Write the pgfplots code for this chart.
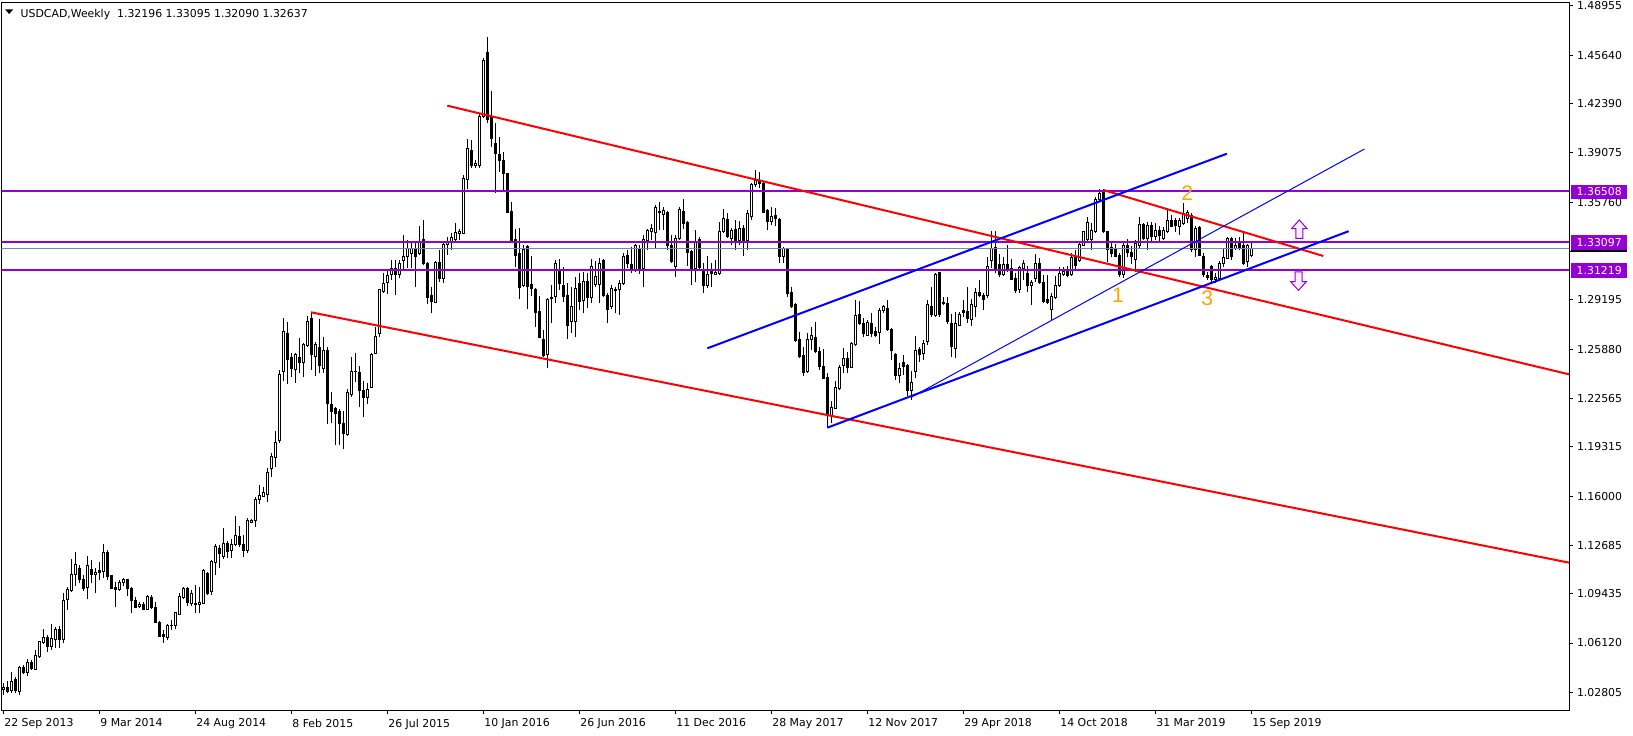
\documentclass[border=0pt]{standalone}
\usepackage{fontspec}
\setmainfont{DejaVu Sans}
\newfontfamily\arialfont{Liberation Sans}
\usepackage{pgfplots}
\usepackage{pgfplotstable}
\pgfplotsset{compat=1.18}
\definecolor{mtpurple}{RGB}{148,0,211}
\definecolor{mtred}{RGB}{255,0,0}
\definecolor{mtblue}{RGB}{0,0,255}
\definecolor{bidgray}{RGB}{119,136,153}
\definecolor{mtorange}{RGB}{255,165,0}
\definecolor{arrowfill}{RGB}{250,238,255}
\newcommand{\tickfont}{\fontsize{3.1pt}{3.7pt}\selectfont}
\pgfplotstableread{
w o h l c
0 1.0301 1.0345 1.0262 1.0314
1 1.0314 1.0357 1.0274 1.0285
2 1.0292 1.0417 1.0274 1.0354
3 1.0368 1.0386 1.0274 1.0292
4 1.0285 1.0457 1.0262 1.0448
5 1.0448 1.0464 1.0401 1.0413
6 1.0413 1.0502 1.0390 1.0480
7 1.0484 1.0498 1.0431 1.0440
8 1.0435 1.0565 1.0431 1.0525
9 1.0520 1.0626 1.0513 1.0619
10 1.0614 1.0706 1.0608 1.0650
11 1.0646 1.0664 1.0554 1.0587
12 1.0587 1.0740 1.0565 1.0643
13 1.0637 1.0722 1.0581 1.0706
14 1.0706 1.0726 1.0581 1.0637
15 1.0637 1.0946 1.0610 1.0901
16 1.0906 1.0991 1.0834 1.0973
17 1.0962 1.1177 1.0957 1.1074
18 1.1074 1.1224 1.0995 1.1137
19 1.1114 1.1137 1.1013 1.1040
20 1.1040 1.1069 1.0964 1.0977
21 1.0986 1.1197 1.0906 1.1130
22 1.1107 1.1170 1.1013 1.1072
23 1.1072 1.1114 1.0951 1.1089
24 1.1098 1.1159 1.1036 1.1087
25 1.1094 1.1278 1.1047 1.1222
26 1.1222 1.1237 1.1036 1.1058
27 1.1063 1.1069 1.0973 1.0980
28 1.0984 1.1025 1.0856 1.0975
29 1.0973 1.1036 1.0964 1.1020
30 1.1020 1.1047 1.0995 1.1036
31 1.1036 1.1045 1.0928 1.0980
32 1.0980 1.0991 1.0812 1.0895
33 1.0901 1.0924 1.0845 1.0852
34 1.0856 1.0890 1.0850 1.0874
35 1.0874 1.0890 1.0834 1.0838
36 1.0838 1.0935 1.0834 1.0928
37 1.0919 1.0935 1.0838 1.0850
38 1.0850 1.0890 1.0745 1.0749
39 1.0751 1.0758 1.0655 1.0659
40 1.0670 1.0699 1.0614 1.0659
41 1.0650 1.0740 1.0632 1.0733
42 1.0729 1.0767 1.0699 1.0733
43 1.0729 1.0823 1.0704 1.0816
44 1.0807 1.0950 1.0800 1.0928
45 1.0919 1.0986 1.0906 1.0977
46 1.0977 1.0986 1.0861 1.0885
47 1.0879 1.0968 1.0861 1.0946
48 1.0879 1.1002 1.0812 1.0874
49 1.0874 1.0991 1.0816 1.0883
50 1.0879 1.1107 1.0874 1.1098
51 1.1081 1.1092 1.0935 1.0946
52 1.0957 1.1170 1.0935 1.1159
53 1.1152 1.1278 1.1069 1.1260
54 1.1249 1.1269 1.1114 1.1215
55 1.1197 1.1383 1.1179 1.1278
56 1.1278 1.1298 1.1181 1.1226
57 1.1233 1.1309 1.1186 1.1271
58 1.1271 1.1466 1.1264 1.1332
59 1.1325 1.1399 1.1255 1.1271
60 1.1275 1.1338 1.1188 1.1237
61 1.1237 1.1450 1.1219 1.1439
62 1.1421 1.1444 1.1417 1.1435
63 1.1435 1.1592 1.1394 1.1574
64 1.1574 1.1672 1.1547 1.1605
65 1.1596 1.1659 1.1592 1.1627
66 1.1612 1.1787 1.1562 1.1760
67 1.1787 1.1892 1.1726 1.1865
68 1.1861 1.2040 1.1798 1.1959
69 1.1977 1.2448 1.1959 1.2419
70 1.2437 1.2795 1.2376 1.2710
71 1.2690 1.2773 1.2354 1.2520
72 1.2533 1.2560 1.2403 1.2459
73 1.2448 1.2564 1.2363 1.2549
74 1.2531 1.2661 1.2425 1.2497
75 1.2497 1.2627 1.2403 1.2616
76 1.2611 1.2811 1.2600 1.2777
77 1.2795 1.2833 1.2448 1.2553
78 1.2538 1.2638 1.2407 1.2616
79 1.2600 1.2789 1.2425 1.2475
80 1.2459 1.2668 1.2430 1.2582
81 1.2578 1.2600 1.2085 1.2224
82 1.2219 1.2302 1.2089 1.2168
83 1.2190 1.2201 1.1943 1.2156
84 1.2168 1.2183 1.1943 1.2085
85 1.2089 1.2174 1.1914 1.2022
86 1.2011 1.2318 1.2004 1.2295
87 1.2280 1.2537 1.2269 1.2441
88 1.2441 1.2564 1.2369 1.2437
89 1.2432 1.2475 1.2201 1.2313
90 1.2313 1.2376 1.2130 1.2264
91 1.2264 1.2358 1.2219 1.2318
92 1.2331 1.2564 1.2325 1.2553
93 1.2560 1.2739 1.2555 1.2676
94 1.2694 1.2990 1.2672 1.2986
95 1.2975 1.3098 1.2963 1.3031
96 1.3035 1.3120 1.2960 1.3080
97 1.3087 1.3187 1.3053 1.3131
98 1.3131 1.3190 1.2952 1.3090
99 1.3087 1.3190 1.3064 1.3165
100 1.3183 1.3356 1.3120 1.3214
101 1.3214 1.3322 1.3132 1.3266
102 1.3232 1.3304 1.3132 1.3266
103 1.3255 1.3311 1.3008 1.3210
104 1.3232 1.3416 1.3221 1.3304
105 1.3322 1.3457 1.3154 1.3165
106 1.3161 1.3176 1.2892 1.2936
107 1.2952 1.3008 1.2829 1.2907
108 1.2900 1.3183 1.2896 1.3172
109 1.3170 1.3255 1.3042 1.3064
110 1.3064 1.3300 1.3031 1.3295
111 1.3295 1.3344 1.3221 1.3304
112 1.3304 1.3367 1.3255 1.3340
113 1.3322 1.3434 1.3311 1.3371
114 1.3367 1.3394 1.3322 1.3376
115 1.3367 1.3759 1.3362 1.3737
116 1.3730 1.3999 1.3663 1.3938
117 1.3927 1.3994 1.3804 1.3820
118 1.3820 1.3860 1.3804 1.3833
119 1.3820 1.4174 1.3804 1.4151
120 1.4151 1.4544 1.4140 1.4532
121 1.4584 1.4689 1.4107 1.4129
122 1.4151 1.4324 1.3950 1.4006
123 1.3972 1.4107 1.3640 1.3905
124 1.3898 1.4017 1.3782 1.3856
125 1.3856 1.3916 1.3658 1.3770
126 1.3770 1.3775 1.3501 1.3506
127 1.3513 1.3580 1.3304 1.3311
128 1.3322 1.3394 1.3143 1.3221
129 1.3232 1.3401 1.2923 1.3001
130 1.3015 1.3288 1.3008 1.3259
131 1.3277 1.3288 1.2856 1.3008
132 1.3024 1.3214 1.2945 1.2997
133 1.2986 1.2997 1.2739 1.2833
134 1.2840 1.2945 1.2661 1.2668
135 1.2654 1.2717 1.2533 1.2542
136 1.2549 1.2930 1.2459 1.2919
137 1.2928 1.3020 1.2762 1.2934
138 1.2941 1.3188 1.2896 1.3165
139 1.3125 1.3192 1.2986 1.3031
140 1.3019 1.3143 1.2907 1.2941
141 1.2952 1.3031 1.2654 1.2750
142 1.2773 1.3008 1.2694 1.2878
143 1.2773 1.3075 1.2672 1.2997
144 1.3031 1.3098 1.2851 1.2907
145 1.2914 1.3109 1.2829 1.3040
146 1.3046 1.3098 1.2863 1.2934
147 1.2934 1.3192 1.2901 1.3143
148 1.3020 1.3183 1.3008 1.3075
149 1.3020 1.3199 1.2896 1.3165
150 1.3183 1.3192 1.2941 1.2952
151 1.2952 1.2968 1.2762 1.2856
152 1.2874 1.3020 1.2856 1.2997
153 1.2981 1.3004 1.2829 1.2990
154 1.2990 1.3053 1.2818 1.3031
155 1.3031 1.3232 1.3019 1.3214
156 1.3221 1.3255 1.3132 1.3165
157 1.3158 1.3277 1.3102 1.3116
158 1.3125 1.3295 1.3109 1.3282
159 1.3255 1.3288 1.3093 1.3132
160 1.3132 1.3356 1.3004 1.3326
161 1.3318 1.3394 1.3255 1.3383
162 1.3378 1.3430 1.3322 1.3400
163 1.3371 1.3557 1.3259 1.3542
164 1.3513 1.3580 1.3389 1.3506
165 1.3495 1.3546 1.3389 1.3517
166 1.3506 1.3519 1.3255 1.3288
167 1.3288 1.3356 1.3165 1.3176
168 1.3147 1.3356 1.3075 1.3333
169 1.3333 1.3542 1.3322 1.3528
170 1.3513 1.3595 1.3394 1.3430
171 1.3439 1.3452 1.3147 1.3237
172 1.3244 1.3255 1.3019 1.3116
173 1.3132 1.3389 1.3042 1.3311
174 1.3322 1.3340 1.3125 1.3138
175 1.3109 1.3165 1.2963 1.3019
176 1.3019 1.3214 1.2997 1.3087
177 1.3109 1.3165 1.3008 1.3098
178 1.3093 1.3188 1.3087 1.3102
179 1.3098 1.3445 1.3087 1.3378
180 1.3378 1.3528 1.3367 1.3468
181 1.3461 1.3501 1.3333 1.3344
182 1.3333 1.3400 1.3288 1.3385
183 1.3394 1.3456 1.3255 1.3311
184 1.3318 1.3452 1.3288 1.3400
185 1.3400 1.3423 1.3214 1.3318
186 1.3318 1.3524 1.3255 1.3497
187 1.3479 1.3707 1.3456 1.3696
188 1.3696 1.3793 1.3681 1.3721
189 1.3721 1.3780 1.3670 1.3705
190 1.3703 1.3714 1.3501 1.3506
191 1.3519 1.3528 1.3389 1.3445
192 1.3445 1.3542 1.3423 1.3483
193 1.3490 1.3535 1.3416 1.3468
194 1.3457 1.3468 1.3165 1.3210
195 1.3210 1.3277 1.3165 1.3266
196 1.3266 1.3270 1.2941 1.2963
197 1.2968 1.3008 1.2863 1.2874
198 1.2885 1.2896 1.2639 1.2643
199 1.2650 1.2706 1.2526 1.2538
200 1.2542 1.2605 1.2407 1.2430
201 1.2437 1.2694 1.2430 1.2650
202 1.2650 1.2735 1.2582 1.2677
203 1.2668 1.2773 1.2560 1.2571
204 1.2571 1.2605 1.2448 1.2470
205 1.2470 1.2590 1.2385 1.2392
206 1.2400 1.2425 1.2056 1.2145
207 1.2145 1.2242 1.2089 1.2197
208 1.2190 1.2376 1.2183 1.2331
209 1.2325 1.2481 1.2313 1.2466
210 1.2481 1.2593 1.2425 1.2526
211 1.2526 1.2571 1.2425 1.2466
212 1.2466 1.2638 1.2459 1.2627
213 1.2616 1.2918 1.2609 1.2811
214 1.2824 1.2914 1.2750 1.2762
215 1.2762 1.2795 1.2672 1.2690
216 1.2683 1.2784 1.2677 1.2766
217 1.2762 1.2833 1.2672 1.2690
218 1.2706 1.2739 1.2672 1.2683
219 1.2699 1.2863 1.2620 1.2851
220 1.2847 1.2885 1.2833 1.2874
221 1.2862 1.2918 1.2712 1.2721
222 1.2721 1.2728 1.2515 1.2578
223 1.2549 1.2564 1.2381 1.2414
224 1.2414 1.2493 1.2358 1.2459
225 1.2497 1.2549 1.2414 1.2470
226 1.2475 1.2488 1.2273 1.2313
227 1.2313 1.2443 1.2246 1.2363
228 1.2437 1.2676 1.2392 1.2578
229 1.2587 1.2605 1.2504 1.2555
230 1.2560 1.2650 1.2515 1.2627
231 1.2638 1.2918 1.2616 1.2885
232 1.2878 1.3008 1.2806 1.2818
233 1.2811 1.3102 1.2806 1.3093
234 1.3102 1.3109 1.2806 1.2824
235 1.2901 1.2941 1.2885 1.2892
236 1.2896 1.2941 1.2757 1.2773
237 1.2762 1.2824 1.2537 1.2609
238 1.2593 1.2840 1.2526 1.2762
239 1.2750 1.2840 1.2744 1.2824
240 1.2847 1.2918 1.2806 1.2833
241 1.2840 1.3004 1.2762 1.2795
242 1.2789 1.2923 1.2744 1.2885
243 1.2878 1.2997 1.2806 1.2968
244 1.2968 1.3053 1.2936 1.2952
245 1.2952 1.2963 1.2851 1.2923
246 1.2950 1.3210 1.2930 1.3143
247 1.3187 1.3385 1.3131 1.3266
248 1.3273 1.3385 1.3098 1.3120
249 1.3154 1.3226 1.3075 1.3087
250 1.3087 1.3210 1.3080 1.3154
251 1.3160 1.3288 1.3109 1.3131
252 1.3131 1.3192 1.3053 1.3057
253 1.3064 1.3098 1.2968 1.2981
254 1.2990 1.3147 1.2963 1.3138
255 1.3131 1.3187 1.3053 1.3165
256 1.3100 1.3150 1.2974 1.3019
257 1.3019 1.3053 1.2885 1.3035
258 1.3064 1.3226 1.3042 1.3165
259 1.3165 1.3199 1.3026 1.3035
260 1.3035 1.3087 1.2896 1.2907
261 1.2923 1.3087 1.2892 1.2901
262 1.2856 1.2963 1.2784 1.2941
263 1.2936 1.3080 1.2923 1.3019
264 1.3013 1.3143 1.3008 1.3098
265 1.3093 1.3143 1.3080 1.3109
266 1.3109 1.3147 1.3071 1.3080
267 1.3087 1.3232 1.3080 1.3205
268 1.3205 1.3255 1.3120 1.3150
269 1.3187 1.3304 1.3176 1.3295
270 1.3288 1.3385 1.3282 1.3378
271 1.3322 1.3474 1.3311 1.3439
272 1.3322 1.3439 1.3255 1.3389
273 1.3378 1.3609 1.3367 1.3596
274 1.3591 1.3663 1.3580 1.3636
275 1.3654 1.3663 1.3371 1.3378
276 1.3378 1.3385 1.3176 1.3259
277 1.3273 1.3311 1.3205 1.3228
278 1.3266 1.3295 1.3205 1.3210
279 1.3221 1.3237 1.3075 1.3093
280 1.3090 1.3310 1.3069 1.3285
281 1.3285 1.3330 1.3205 1.3240
282 1.3240 1.3280 1.3160 1.3210
283 1.3190 1.3320 1.3110 1.3300
284 1.3282 1.3479 1.3266 1.3423
285 1.3423 1.3439 1.3322 1.3333
286 1.3333 1.3445 1.3255 1.3420
287 1.3420 1.3445 1.3311 1.3344
288 1.3344 1.3434 1.3322 1.3385
289 1.3389 1.3416 1.3311 1.3349
290 1.3333 1.3412 1.3322 1.3389
291 1.3378 1.3535 1.3367 1.3456
292 1.3456 1.3490 1.3412 1.3416
293 1.3450 1.3468 1.3378 1.3420
294 1.3416 1.3468 1.3356 1.3452
295 1.3434 1.3569 1.3423 1.3501
296 1.3468 1.3524 1.3434 1.3506
297 1.3490 1.3506 1.3244 1.3255
298 1.3255 1.3416 1.3210 1.3400
299 1.3407 1.3416 1.3214 1.3221
300 1.3214 1.3232 1.3075 1.3087
301 1.3080 1.3109 1.3053 1.3071
302 1.3143 1.3154 1.3031 1.3053
303 1.3053 1.3098 1.3035 1.3071
304 1.3064 1.3183 1.3048 1.3165
305 1.3161 1.3266 1.3143 1.3205
306 1.3199 1.3340 1.3192 1.3333
307 1.3333 1.3340 1.3187 1.3210
308 1.3266 1.3333 1.3255 1.3282
309 1.3311 1.3344 1.3255 1.3266
310 1.3288 1.3367 1.3154 1.3165
311 1.3176 1.3295 1.3143 1.3282
312 1.32196 1.33095 1.32090 1.32637
}\candles
\pgfplotsset{chartbase/.style={scale only axis, width=15.678cm, height=7.082cm,
  xmin=-0.55, xmax=391.4, ymin=1.01567, ymax=1.49190,
  at={(0cm,0cm)}, anchor=south west}}
\begin{document}
\begin{tikzpicture}
\useasboundingbox (-0.015cm,-0.243cm) rectangle (16.315cm,7.107cm);
% wicks
\begin{axis}[chartbase, hide axis]
\addplot[draw=none, mark=none, error bars/.cd, y dir=plus, y explicit, error mark=none,
  error bar style={draw=black, line width=0.01cm}]
  table[x=w, y=l, y error expr=\thisrow{h}-\thisrow{l}] {\candles};
\end{axis}
% bodies
\begin{axis}[chartbase, hide axis, ybar stacked, bar width=0.02cm]
\addplot[draw=none, fill=none] table[x=w, y expr={min(\thisrow{o},\thisrow{c})}] {\candles};
\addplot[draw=black, fill=white, line width=0.01cm] table[x=w, y expr={max(\thisrow{c}-\thisrow{o},0)}] {\candles};
\addplot[draw=black, fill=black, line width=0.01cm] table[x=w, y expr={max(\thisrow{o}-\thisrow{c},0)}] {\candles};
\end{axis}
% lines, frame, ticks
\begin{axis}[chartbase,
  axis line style={black, line width=0.01cm},
  tick align=outside, major tick length=0.035cm,
  every tick/.style={black, line width=0.01cm},
  xtick pos=left, ytick pos=right, yticklabel pos=right,
  xtick={0,24,48,72,96,120,144,168,192,216,240,264,288,312},
  xticklabels={22 Sep 2013,9 Mar 2014,24 Aug 2014,8 Feb 2015,26 Jul 2015,10 Jan 2016,26 Jun 2016,11 Dec 2016,28 May 2017,12 Nov 2017,29 Apr 2018,14 Oct 2018,31 Mar 2019,15 Sep 2019},
  ytick={1.48955,1.45640,1.42390,1.39075,1.35760,1.32445,1.29195,1.25880,1.22565,1.19315,1.16000,1.12685,1.09435,1.06120,1.02805},
  yticklabels={1.48955,1.45640,1.42390,1.39075,1.35760,{},1.29195,1.25880,1.22565,1.19315,1.16000,1.12685,1.09435,1.06120,1.02805},
  tick label style={font=\tickfont, inner sep=0pt},
  xticklabel style={anchor=north west, yshift=-0.04cm},
  yticklabel style={anchor=west, xshift=0.035cm},
]
\addplot[bidgray, line width=0.01cm] coordinates {(-5,1.32637) (400,1.32637)};
\addplot[mtpurple, line width=0.02cm] coordinates {(-5,1.36508) (400,1.36508)};
\addplot[mtpurple, line width=0.02cm] coordinates {(-5,1.33097) (400,1.33097)};
\addplot[mtpurple, line width=0.02cm] coordinates {(-5,1.31219) (400,1.31219)};
\addplot[mtred, line width=0.02cm] coordinates {(110.9,1.42251) (395,1.23950)};
\addplot[mtred, line width=0.02cm] coordinates {(76.8,1.28358) (395,1.11327)};
\addplot[mtred, line width=0.02cm] coordinates {(274.9,1.36582) (329.9,1.32144)};
\addplot[mtblue, line width=0.02cm] coordinates {(175.9,1.25937) (305.8,1.39023)};
\addplot[mtblue, line width=0.02cm] coordinates {(205.9,1.20598) (336.25,1.33811)};
\addplot[mtblue, line width=0.01cm] coordinates {(227.0,1.22662) (340.2,1.39339)};
\node[text=mtorange, font=\arialfont\fontsize{6pt}{7pt}\selectfont, inner sep=0pt] at (axis cs:278.6,1.29521) {1};
\node[text=mtorange, font=\arialfont\fontsize{6pt}{7pt}\selectfont, inner sep=0pt] at (axis cs:295.9,1.36360) {2};
\node[text=mtorange, font=\arialfont\fontsize{6pt}{7pt}\selectfont, inner sep=0pt] at (axis cs:300.9,1.29299) {3};
\coordinate (r1) at (axis cs:391.4,1.36508);
\coordinate (r2) at (axis cs:391.4,1.33097);
\coordinate (r3) at (axis cs:391.4,1.31219);
\coordinate (rb) at (axis cs:391.4,1.32637);
\coordinate (upA) at (axis cs:323.9,1.33946);
\coordinate (dnA) at (axis cs:323.7,1.30449);
\end{axis}
% price boxes
\node[fill=black, text=white, anchor=west, xshift=0.014cm, yshift=0.022cm, inner xsep=0.053cm, inner ysep=0pt, minimum height=0.12cm, font=\tickfont] at (rb) {1.32637};
\foreach \c/\t in {r1/1.36508, r2/1.33097, r3/1.31219}{
  \node[fill=mtpurple, text=white, anchor=west, xshift=0.014cm, yshift=-0.008cm, inner xsep=0.053cm, inner ysep=0pt, minimum height=0.144cm, font=\tickfont] at (\c) {\t};
}
% arrows
\draw[mtpurple, fill=arrowfill, line width=0.01cm, shift={(upA)}] (0,0.092) -- (0.078,0.005) -- (0.035,0.005) -- (0.035,-0.092) -- (-0.035,-0.092) -- (-0.035,0.005) -- (-0.078,0.005) -- cycle;
\draw[mtpurple, fill=arrowfill, line width=0.01cm, shift={(dnA)}] (0,-0.092) -- (0.078,-0.005) -- (0.035,-0.005) -- (0.035,0.092) -- (-0.035,0.092) -- (-0.035,-0.005) -- (-0.078,-0.005) -- cycle;
% header
\fill[black] (0.035,7.014) -- (0.118,7.014) -- (0.0765,6.967) -- cycle;
\node[anchor=base west, inner sep=0pt, font=\tickfont] at (0.185,6.934) {USDCAD,Weekly\ \ 1.32196 1.33095 1.32090 1.32637};
\end{tikzpicture}
\end{document}
